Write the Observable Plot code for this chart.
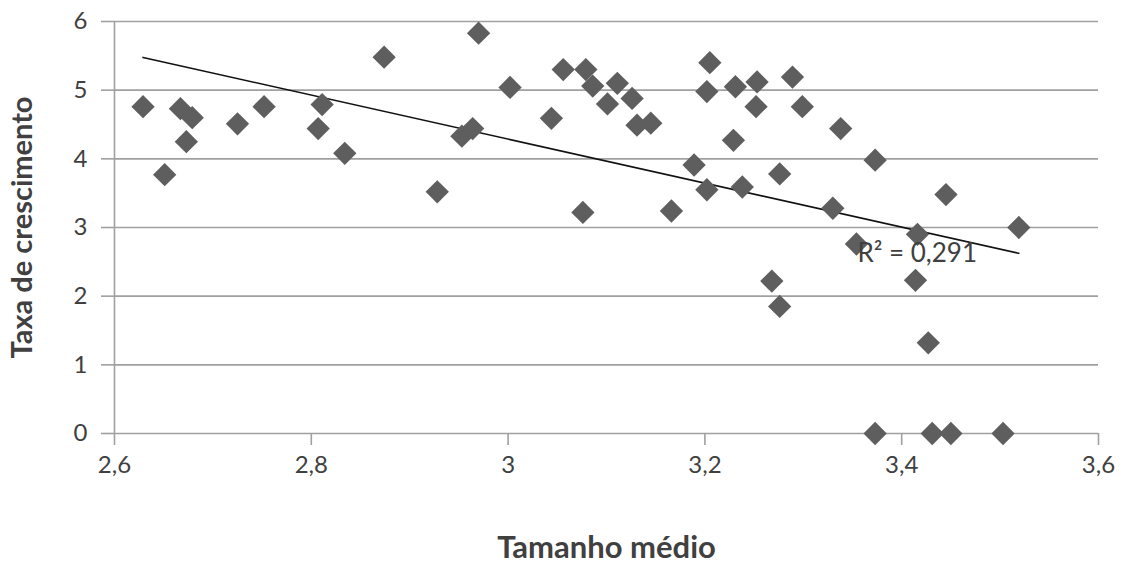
<!DOCTYPE html>
<html><head><meta charset="utf-8">
<script src="https://cdn.jsdelivr.net/npm/d3@7"></script>
<script src="https://cdn.jsdelivr.net/npm/@observablehq/plot@0.6"></script>
<style>body{margin:0;background:#fff;} #chart svg{display:block}</style>
</head><body><div id="chart"></div>
<script>
const tamanho = [2.629,2.651,2.667,2.679,2.673,2.725,2.752,2.811,2.807,2.834,2.874,2.928,2.953,2.964,2.970,3.002,3.044,3.056,3.076,3.079,3.086,3.101,3.111,3.126,3.131,3.145,3.166,3.189,3.202,3.202,3.205,3.231,3.229,3.238,3.253,3.252,3.276,3.268,3.276,3.289,3.299,3.330,3.338,3.354,3.373,3.373,3.416,3.414,3.427,3.431,3.445,3.450,3.503,3.519];
const taxa    = [4.76,3.77,4.73,4.60,4.25,4.51,4.76,4.79,4.44,4.08,5.48,3.52,4.33,4.44,5.83,5.04,4.59,5.30,3.22,5.30,5.06,4.80,5.10,4.88,4.49,4.52,3.24,3.91,3.55,4.98,5.40,5.05,4.27,3.59,5.12,4.76,3.78,2.22,1.85,5.19,4.76,3.28,4.44,2.76,3.98,0,2.90,2.23,1.32,0,3.48,0,0,3.00];
const xTicks = [2.6,2.8,3,3.2,3.4,3.6];
const yTicks = [0,1,2,3,4,5,6];
const xTitle = "Tamanho médio";
const yTitle = "Taxa de crescimento";
const r2Label = ["R² = 0,291"];
const r2X = 3.355, r2Y = 2.62;

const data = tamanho.map((x,i)=>({x, y: taxa[i]}));
const fmt = d => String(d).replace(".", ",");
const chart = Plot.plot({
  width:1124, height:563, marginLeft:114, marginRight:26, marginTop:21, marginBottom:130,
  style:{fontFamily:"Lato, sans-serif", color:"#404040", background:"white"},
  x:{domain:[2.6,3.6]}, y:{domain:[0,6]},
  marks:[
    Plot.ruleY(yTicks, {stroke:"#a0a0a0", strokeWidth:1.6}),
    Plot.ruleX([2.6], {stroke:"#a0a0a0", strokeWidth:1.6}),
    Plot.axisY({ticks:yTicks, tickSize:13, tickPadding:14, tickFormat:fmt, fontSize:24, stroke:"#a0a0a0", strokeWidth:1.6, label:null}),
    Plot.axisX({ticks:xTicks, tickSize:12, tickPadding:10, tickFormat:fmt, fontSize:24, stroke:"#a0a0a0", strokeWidth:1.6, label:null}),
    Plot.linearRegressionY(data, {x:"x", y:"y", ci:0, stroke:"#111", strokeWidth:1.6}),
    Plot.dot(data, {x:"x", y:"y", symbol:"diamond2", r:10.5, fill:"#5e5e5e", stroke:null}),
    Plot.text(r2Label, {x:r2X, y:r2Y, textAnchor:"start", fontSize:26, fill:"#404040"}),
    Plot.text([xTitle], {frameAnchor:"bottom", dy:124, fontSize:31, fontWeight:"bold", fill:"#404040"}),
    Plot.text([yTitle], {frameAnchor:"left", textAnchor:"middle", dx:-92, rotate:-90, fontSize:29, fontWeight:"bold", fill:"#404040"})
  ]
});
document.getElementById("chart").appendChild(chart);
</script>
</body></html>
